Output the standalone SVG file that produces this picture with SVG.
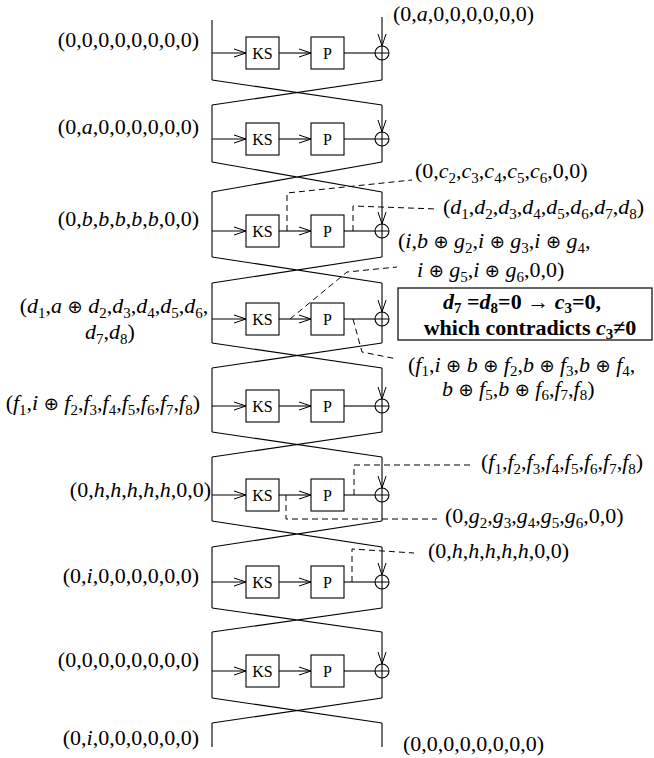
<svg xmlns="http://www.w3.org/2000/svg" width="654" height="758" viewBox="0 0 654 758">
<defs>
<style>
.lbl{font-family:"Liberation Serif","Times New Roman","DejaVu Serif",serif;font-size:22px;fill:#000}
.it{font-style:italic}
.sb{font-size:15px}
.op{font-family:"DejaVu Sans",sans-serif;font-size:18px;font-style:normal}
.bx{font-family:"Liberation Serif","Times New Roman",serif;font-size:16px;fill:#000}
.bold{font-weight:bold}
.box{fill:#fff;stroke:#000;stroke-width:1.1}
.ln{fill:none;stroke:#000;stroke-width:1.1}
.ar{fill:none;stroke:#000;stroke-width:1.1;marker-end:url(#ah)}
.dash{fill:none;stroke:#000;stroke-width:1;stroke-dasharray:6,4}
</style>
<marker id="ah" markerUnits="userSpaceOnUse" markerWidth="14" markerHeight="10" refX="12" refY="5" orient="auto"><path d="M0,1 L12,5 L0,9" fill="none" stroke="#000" stroke-width="1"/></marker>
</defs>
<rect width="654" height="758" fill="#fff"/>

<g id="connectors">
<path class="ln" d="M212,20 V80"/>
<path class="ar" d="M212,53 H246"/><path class="ar" d="M279,53 H311"/><path class="ln" d="M344,53 H375"/>
<path class="ar" d="M382,17 V46"/><path class="ln" d="M382,60 V80"/>
<path class="ln" d="M212,80 L382,105 M382,80 L212,105"/>
<path class="ln" d="M212,105 V162"/>
<path class="ar" d="M212,139 H246"/><path class="ar" d="M279,139 H311"/><path class="ln" d="M344,139 H375"/>
<path class="ar" d="M382,105 V132"/><path class="ln" d="M382,146 V162"/>
<path class="ln" d="M212,162 L382,192 M382,162 L212,192"/>
<path class="ln" d="M212,192 V257"/>
<path class="ar" d="M212,231 H246"/><path class="ar" d="M279,231 H311"/><path class="ln" d="M344,231 H375"/>
<path class="ar" d="M382,192 V224"/><path class="ln" d="M382,238 V257"/>
<path class="ln" d="M212,257 L382,283 M382,257 L212,283"/>
<path class="ln" d="M212,283 V343"/>
<path class="ar" d="M212,319 H246"/><path class="ar" d="M279,319 H311"/><path class="ln" d="M344,319 H375"/>
<path class="ar" d="M382,283 V312"/><path class="ln" d="M382,326 V343"/>
<path class="ln" d="M212,343 L382,368 M382,343 L212,368"/>
<path class="ln" d="M212,368 V432"/>
<path class="ar" d="M212,406 H246"/><path class="ar" d="M279,406 H311"/><path class="ln" d="M344,406 H375"/>
<path class="ar" d="M382,368 V399"/><path class="ln" d="M382,413 V432"/>
<path class="ln" d="M212,432 L382,457 M382,432 L212,457"/>
<path class="ln" d="M212,457 V521"/>
<path class="ar" d="M212,495 H246"/><path class="ar" d="M279,495 H311"/><path class="ln" d="M344,495 H375"/>
<path class="ar" d="M382,457 V488"/><path class="ln" d="M382,502 V521"/>
<path class="ln" d="M212,521 L382,547 M382,521 L212,547"/>
<path class="ln" d="M212,547 V608"/>
<path class="ar" d="M212,582 H246"/><path class="ar" d="M279,582 H311"/><path class="ln" d="M344,582 H375"/>
<path class="ar" d="M382,547 V575"/><path class="ln" d="M382,589 V608"/>
<path class="ln" d="M212,608 L382,632 M382,608 L212,632"/>
<path class="ln" d="M212,632 V698"/>
<path class="ar" d="M212,671 H246"/><path class="ar" d="M279,671 H311"/><path class="ln" d="M344,671 H375"/>
<path class="ar" d="M382,632 V664"/><path class="ln" d="M382,678 V698"/>
<path class="ln" d="M212,698 L382,723 M382,698 L212,723"/>
<path class="ln" d="M212,723 V747 M382,723 V747"/>
<path class="dash" d="M287,231 V193 L412,180"/>
<path class="dash" d="M353,231 V206 L437,209"/>
<path class="dash" d="M290,319 L347,272 L397,267"/>
<path class="dash" d="M353,319 L362,352 L397,359"/>
<path class="dash" d="M354,495 V465 H472"/>
<path class="dash" d="M286,495 V519 H437"/>
<path class="dash" d="M352,582 V549 L414,553"/>
</g>

<g id="round1">
<g id="ks1"><rect class="box" x="246" y="37" width="33" height="32"/><text class="bx" x="262.5" y="59" text-anchor="middle">KS</text></g>
<g id="p1"><rect class="box" x="311" y="37" width="33" height="32"/><text class="bx" x="327.5" y="59" text-anchor="middle">P</text></g>
<g id="xor1"><circle class="ln" cx="382" cy="53" r="7"/><path class="ln" d="M375,53 H389 M382,46 V60"/></g>
</g>
<g id="round2">
<g id="ks2"><rect class="box" x="246" y="123" width="33" height="32"/><text class="bx" x="262.5" y="145" text-anchor="middle">KS</text></g>
<g id="p2"><rect class="box" x="311" y="123" width="33" height="32"/><text class="bx" x="327.5" y="145" text-anchor="middle">P</text></g>
<g id="xor2"><circle class="ln" cx="382" cy="139" r="7"/><path class="ln" d="M375,139 H389 M382,132 V146"/></g>
</g>
<g id="round3">
<g id="ks3"><rect class="box" x="246" y="215" width="33" height="32"/><text class="bx" x="262.5" y="237" text-anchor="middle">KS</text></g>
<g id="p3"><rect class="box" x="311" y="215" width="33" height="32"/><text class="bx" x="327.5" y="237" text-anchor="middle">P</text></g>
<g id="xor3"><circle class="ln" cx="382" cy="231" r="7"/><path class="ln" d="M375,231 H389 M382,224 V238"/></g>
</g>
<g id="round4">
<g id="ks4"><rect class="box" x="246" y="303" width="33" height="32"/><text class="bx" x="262.5" y="325" text-anchor="middle">KS</text></g>
<g id="p4"><rect class="box" x="311" y="303" width="33" height="32"/><text class="bx" x="327.5" y="325" text-anchor="middle">P</text></g>
<g id="xor4"><circle class="ln" cx="382" cy="319" r="7"/><path class="ln" d="M375,319 H389 M382,312 V326"/></g>
</g>
<g id="round5">
<g id="ks5"><rect class="box" x="246" y="390" width="33" height="32"/><text class="bx" x="262.5" y="412" text-anchor="middle">KS</text></g>
<g id="p5"><rect class="box" x="311" y="390" width="33" height="32"/><text class="bx" x="327.5" y="412" text-anchor="middle">P</text></g>
<g id="xor5"><circle class="ln" cx="382" cy="406" r="7"/><path class="ln" d="M375,406 H389 M382,399 V413"/></g>
</g>
<g id="round6">
<g id="ks6"><rect class="box" x="246" y="479" width="33" height="32"/><text class="bx" x="262.5" y="501" text-anchor="middle">KS</text></g>
<g id="p6"><rect class="box" x="311" y="479" width="33" height="32"/><text class="bx" x="327.5" y="501" text-anchor="middle">P</text></g>
<g id="xor6"><circle class="ln" cx="382" cy="495" r="7"/><path class="ln" d="M375,495 H389 M382,488 V502"/></g>
</g>
<g id="round7">
<g id="ks7"><rect class="box" x="246" y="566" width="33" height="32"/><text class="bx" x="262.5" y="588" text-anchor="middle">KS</text></g>
<g id="p7"><rect class="box" x="311" y="566" width="33" height="32"/><text class="bx" x="327.5" y="588" text-anchor="middle">P</text></g>
<g id="xor7"><circle class="ln" cx="382" cy="582" r="7"/><path class="ln" d="M375,582 H389 M382,575 V589"/></g>
</g>
<g id="round8">
<g id="ks8"><rect class="box" x="246" y="655" width="33" height="32"/><text class="bx" x="262.5" y="677" text-anchor="middle">KS</text></g>
<g id="p8"><rect class="box" x="311" y="655" width="33" height="32"/><text class="bx" x="327.5" y="677" text-anchor="middle">P</text></g>
<g id="xor8"><circle class="ln" cx="382" cy="671" r="7"/><path class="ln" d="M375,671 H389 M382,664 V678"/></g>
</g>

<g id="left-labels">
<text class="lbl" x="199" y="47" text-anchor="end">(0,0,0,0,0,0,0,0)</text>
<text class="lbl" x="199" y="134" text-anchor="end">(0,<tspan class="it">a</tspan>,0,0,0,0,0,0)</text>
<text class="lbl" x="199" y="226" text-anchor="end">(0,<tspan class="it">b</tspan>,<tspan class="it">b</tspan>,<tspan class="it">b</tspan>,<tspan class="it">b</tspan>,<tspan class="it">b</tspan>,0,0)</text>
<text class="lbl" x="114" y="313" text-anchor="middle">(<tspan class="it">d</tspan><tspan class="sb" dy="5">1</tspan><tspan dy="-5">,</tspan><tspan class="it">a</tspan> <tspan class="op">⊕</tspan> <tspan class="it">d</tspan><tspan class="sb" dy="5">2</tspan><tspan dy="-5">,</tspan><tspan class="it">d</tspan><tspan class="sb" dy="5">3</tspan><tspan dy="-5">,</tspan><tspan class="it">d</tspan><tspan class="sb" dy="5">4</tspan><tspan dy="-5">,</tspan><tspan class="it">d</tspan><tspan class="sb" dy="5">5</tspan><tspan dy="-5">,</tspan><tspan class="it">d</tspan><tspan class="sb" dy="5">6</tspan><tspan dy="-5">,</tspan></text>
<text class="lbl" x="110" y="339" text-anchor="middle"><tspan class="it">d</tspan><tspan class="sb" dy="5">7</tspan><tspan dy="-5">,</tspan><tspan class="it">d</tspan><tspan class="sb" dy="5">8</tspan><tspan dy="-5">)</tspan></text>
<text class="lbl" x="200" y="410" text-anchor="end">(<tspan class="it">f</tspan><tspan class="sb" dy="5">1</tspan><tspan dy="-5">,</tspan><tspan class="it">i</tspan> <tspan class="op">⊕</tspan> <tspan class="it">f</tspan><tspan class="sb" dy="5">2</tspan><tspan dy="-5">,</tspan><tspan class="it">f</tspan><tspan class="sb" dy="5">3</tspan><tspan dy="-5">,</tspan><tspan class="it">f</tspan><tspan class="sb" dy="5">4</tspan><tspan dy="-5">,</tspan><tspan class="it">f</tspan><tspan class="sb" dy="5">5</tspan><tspan dy="-5">,</tspan><tspan class="it">f</tspan><tspan class="sb" dy="5">6</tspan><tspan dy="-5">,</tspan><tspan class="it">f</tspan><tspan class="sb" dy="5">7</tspan><tspan dy="-5">,</tspan><tspan class="it">f</tspan><tspan class="sb" dy="5">8</tspan><tspan dy="-5">)</tspan></text>
<text class="lbl" x="211" y="497" text-anchor="end">(0,<tspan class="it">h</tspan>,<tspan class="it">h</tspan>,<tspan class="it">h</tspan>,<tspan class="it">h</tspan>,<tspan class="it">h</tspan>,0,0)</text>
<text class="lbl" x="199" y="583" text-anchor="end">(0,<tspan class="it">i</tspan>,0,0,0,0,0,0)</text>
<text class="lbl" x="199" y="667" text-anchor="end">(0,0,0,0,0,0,0,0)</text>
<text class="lbl" x="199" y="745" text-anchor="end">(0,<tspan class="it">i</tspan>,0,0,0,0,0,0)</text>
</g>

<g id="right-labels">
<text class="lbl" x="393" y="21">(0,<tspan class="it">a</tspan>,0,0,0,0,0,0)</text>
<text class="lbl" x="415" y="178">(0,<tspan class="it">c</tspan><tspan class="sb" dy="5">2</tspan><tspan dy="-5">,</tspan><tspan class="it">c</tspan><tspan class="sb" dy="5">3</tspan><tspan dy="-5">,</tspan><tspan class="it">c</tspan><tspan class="sb" dy="5">4</tspan><tspan dy="-5">,</tspan><tspan class="it">c</tspan><tspan class="sb" dy="5">5</tspan><tspan dy="-5">,</tspan><tspan class="it">c</tspan><tspan class="sb" dy="5">6</tspan><tspan dy="-5">,0,0)</tspan></text>
<text class="lbl" x="443" y="214">(<tspan class="it">d</tspan><tspan class="sb" dy="5">1</tspan><tspan dy="-5">,</tspan><tspan class="it">d</tspan><tspan class="sb" dy="5">2</tspan><tspan dy="-5">,</tspan><tspan class="it">d</tspan><tspan class="sb" dy="5">3</tspan><tspan dy="-5">,</tspan><tspan class="it">d</tspan><tspan class="sb" dy="5">4</tspan><tspan dy="-5">,</tspan><tspan class="it">d</tspan><tspan class="sb" dy="5">5</tspan><tspan dy="-5">,</tspan><tspan class="it">d</tspan><tspan class="sb" dy="5">6</tspan><tspan dy="-5">,</tspan><tspan class="it">d</tspan><tspan class="sb" dy="5">7</tspan><tspan dy="-5">,</tspan><tspan class="it">d</tspan><tspan class="sb" dy="5">8</tspan><tspan dy="-5">)</tspan></text>
<text class="lbl" x="398" y="248">(<tspan class="it">i</tspan>,<tspan class="it">b</tspan> <tspan class="op">⊕</tspan> <tspan class="it">g</tspan><tspan class="sb" dy="5">2</tspan><tspan dy="-5">,</tspan><tspan class="it">i</tspan> <tspan class="op">⊕</tspan> <tspan class="it">g</tspan><tspan class="sb" dy="5">3</tspan><tspan dy="-5">,</tspan><tspan class="it">i</tspan> <tspan class="op">⊕</tspan> <tspan class="it">g</tspan><tspan class="sb" dy="5">4</tspan><tspan dy="-5">,</tspan></text>
<text class="lbl" x="417" y="277"><tspan class="it">i</tspan> <tspan class="op">⊕</tspan> <tspan class="it">g</tspan><tspan class="sb" dy="5">5</tspan><tspan dy="-5">,</tspan><tspan class="it">i</tspan> <tspan class="op">⊕</tspan> <tspan class="it">g</tspan><tspan class="sb" dy="5">6</tspan><tspan dy="-5">,0,0)</tspan></text>
<text class="lbl" x="408" y="372">(<tspan class="it">f</tspan><tspan class="sb" dy="4">1</tspan><tspan dy="-4">,</tspan><tspan class="it">i</tspan> <tspan class="op">⊕</tspan> <tspan class="it">b</tspan> <tspan class="op">⊕</tspan> <tspan class="it">f</tspan><tspan class="sb" dy="4">2</tspan><tspan dy="-4">,</tspan><tspan class="it">b</tspan> <tspan class="op">⊕</tspan> <tspan class="it">f</tspan><tspan class="sb" dy="4">3</tspan><tspan dy="-4">,</tspan><tspan class="it">b</tspan> <tspan class="op">⊕</tspan> <tspan class="it">f</tspan><tspan class="sb" dy="4">4</tspan><tspan dy="-4">,</tspan></text>
<text class="lbl" x="442" y="396"><tspan class="it">b</tspan> <tspan class="op">⊕</tspan> <tspan class="it">f</tspan><tspan class="sb" dy="4">5</tspan><tspan dy="-4">,</tspan><tspan class="it">b</tspan> <tspan class="op">⊕</tspan> <tspan class="it">f</tspan><tspan class="sb" dy="4">6</tspan><tspan dy="-4">,</tspan><tspan class="it">f</tspan><tspan class="sb" dy="4">7</tspan><tspan dy="-4">,</tspan><tspan class="it">f</tspan><tspan class="sb" dy="4">8</tspan><tspan dy="-4">)</tspan></text>
<text class="lbl" x="481" y="469">(<tspan class="it">f</tspan><tspan class="sb" dy="5">1</tspan><tspan dy="-5">,</tspan><tspan class="it">f</tspan><tspan class="sb" dy="5">2</tspan><tspan dy="-5">,</tspan><tspan class="it">f</tspan><tspan class="sb" dy="5">3</tspan><tspan dy="-5">,</tspan><tspan class="it">f</tspan><tspan class="sb" dy="5">4</tspan><tspan dy="-5">,</tspan><tspan class="it">f</tspan><tspan class="sb" dy="5">5</tspan><tspan dy="-5">,</tspan><tspan class="it">f</tspan><tspan class="sb" dy="5">6</tspan><tspan dy="-5">,</tspan><tspan class="it">f</tspan><tspan class="sb" dy="5">7</tspan><tspan dy="-5">,</tspan><tspan class="it">f</tspan><tspan class="sb" dy="5">8</tspan><tspan dy="-5">)</tspan></text>
<text class="lbl" x="445" y="523">(0,<tspan class="it">g</tspan><tspan class="sb" dy="5">2</tspan><tspan dy="-5">,</tspan><tspan class="it">g</tspan><tspan class="sb" dy="5">3</tspan><tspan dy="-5">,</tspan><tspan class="it">g</tspan><tspan class="sb" dy="5">4</tspan><tspan dy="-5">,</tspan><tspan class="it">g</tspan><tspan class="sb" dy="5">5</tspan><tspan dy="-5">,</tspan><tspan class="it">g</tspan><tspan class="sb" dy="5">6</tspan><tspan dy="-5">,0,0)</tspan></text>
<text class="lbl" x="428" y="558">(0,<tspan class="it">h</tspan>,<tspan class="it">h</tspan>,<tspan class="it">h</tspan>,<tspan class="it">h</tspan>,<tspan class="it">h</tspan>,0,0)</text>
<text class="lbl" x="403" y="751">(0,0,0,0,0,0,0,0)</text>
</g>

<g id="contradiction">
<rect x="398" y="288" width="254" height="52" fill="#fff" stroke="#000" stroke-width="1.2"/>
<text class="lbl bold" x="522" y="309" text-anchor="middle"><tspan class="it">d</tspan><tspan class="sb" dy="4">7</tspan><tspan dy="-4"> =</tspan><tspan class="it">d</tspan><tspan class="sb" dy="4">8</tspan><tspan dy="-4">=0 → </tspan><tspan class="it">c</tspan><tspan class="sb" dy="4">3</tspan><tspan dy="-4">=0,</tspan></text>
<text class="lbl bold" x="530" y="335" text-anchor="middle">which contradicts <tspan class="it">c</tspan><tspan class="sb" dy="4">3</tspan><tspan dy="-4">≠0</tspan></text>
</g>
</svg>
